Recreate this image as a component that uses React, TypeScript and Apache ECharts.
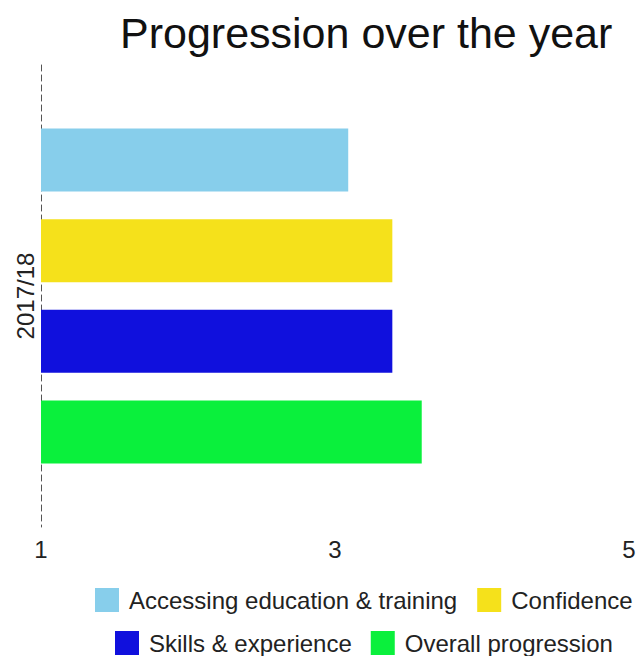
import React, { useEffect, useRef } from "react";
import * as echarts from "echarts";

const categories = ["2017/18"];
const seriesNames = [
  "Accessing education & training",
  "Confidence",
  "Skills & experience",
  "Overall progression",
];
const seriesValues = [[3.09], [3.39], [3.39], [3.59]];
const seriesColors = ["#87CEEB", "#F5E11B", "#1010DD", "#0AF03C"];
const xTicks = [1, 3, 5];

export default function App() {
  const ref = useRef<HTMLDivElement>(null);
  useEffect(() => {
    document.body.style.margin = "0";
    document.body.style.overflow = "hidden";
    if (!ref.current) return;
    const chart = echarts.init(ref.current, null, { renderer: "svg" });
    const font = "Arial, 'Liberation Sans', sans-serif";
    const legendText = { fontSize: 24, color: "#222", fontFamily: font, padding: [0, 0, 0, 5] };
    chart.setOption({
      animation: false,
      textStyle: { fontFamily: font },
      title: {
        text: "Progression over the year",
        left: 115,
        top: 6,
        textStyle: { fontSize: 43, fontWeight: "normal", color: "#111", fontFamily: font },
      },
      legend: [
        {
          data: seriesNames.slice(0, 2),
          left: 90,
          top: 583,
          width: 600,
          itemWidth: 24,
          itemHeight: 24,
          itemGap: 20,
          icon: "rect",
          textStyle: legendText,
        },
        {
          data: seriesNames.slice(2),
          left: 110,
          top: 626,
          width: 600,
          itemWidth: 24,
          itemHeight: 24,
          itemGap: 19,
          icon: "rect",
          textStyle: legendText,
        },
      ],
      grid: { left: 41, top: 65, width: 588, height: 462, containLabel: false },
      xAxis: {
        type: "value",
        min: 1,
        max: 5,
        interval: 1,
        axisLine: { show: false },
        axisTick: { show: false },
        splitLine: { show: false },
        axisLabel: {
          fontSize: 24,
          color: "#222",
          margin: 10,
          formatter: (v: number) => (xTicks.includes(v) ? String(v) : ""),
        },
      },
      yAxis: {
        type: "category",
        data: categories,
        inverse: true,
        axisLine: { show: true, lineStyle: { type: [6, 4], color: "#555", width: 1 } },
        axisTick: { show: false },
        axisLabel: { rotate: 90, fontSize: 24, color: "#222", margin: 4 },
      },
      series: seriesNames.map((name, i) => ({
        name,
        type: "bar",
        data: seriesValues[i],
        itemStyle: { color: seriesColors[i] },
        barWidth: 63,
        barGap: "44%",
      })),
    });
    return () => chart.dispose();
  }, []);
  return <div ref={ref} style={{ width: 641, height: 656 }} />;
}
